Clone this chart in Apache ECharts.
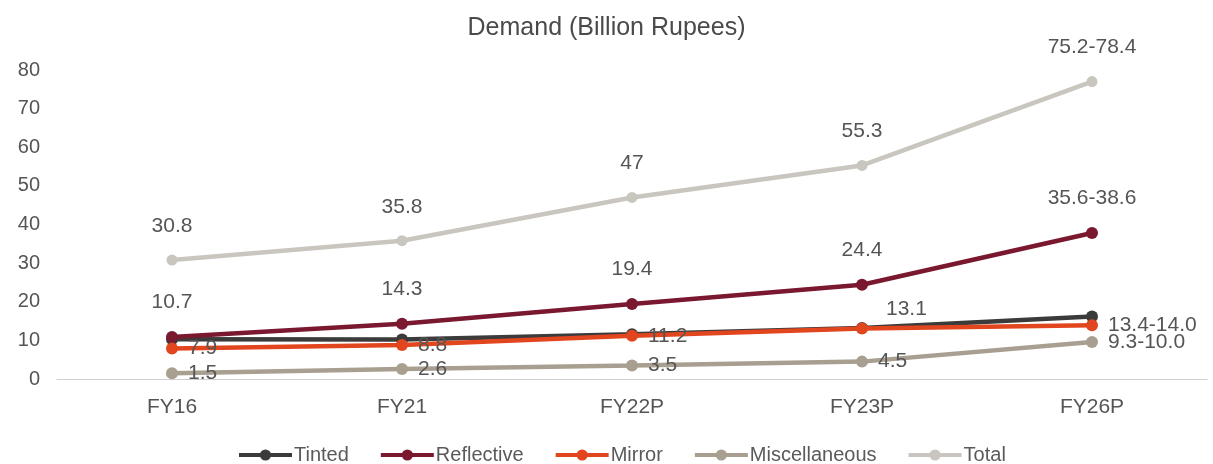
<!DOCTYPE html>
<html><head><meta charset="utf-8">
<script src="https://cdn.jsdelivr.net/npm/echarts@6/dist/echarts.min.js"></script>
<style>html,body{margin:0;padding:0;background:#fff}#c{width:1213px;height:464px}</style>
</head><body><div id="c"></div>
<script>
const categories = ['FY16', 'FY21', 'FY22P', 'FY23P', 'FY26P'];
const tinted = [10.3, 10.2, 11.6, 13.2, 16.2];
const reflective = [10.9, 14.3, 19.4, 24.4, 37.8];
const mirror = [7.9, 8.8, 11.2, 13.1, 13.9];
const misc = [1.5, 2.6, 3.5, 4.5, 9.6];
const total = [30.8, 35.8, 47, 55.3, 77.0];
const reflectiveLabels = ['10.7', '14.3', '19.4', '24.4', '35.6-38.6'];
const mirrorLabels = ['7.9', '8.8', '11.2', '13.1', '13.4-14.0'];
const miscLabels = ['1.5', '2.6', '3.5', '4.5', '9.3-10.0'];
const totalLabels = ['30.8', '35.8', '47', '55.3', '75.2-78.4'];
const yTicks = [0, 10, 20, 30, 40, 50, 60, 70, 80];

const FONT = 'Liberation Sans, Arial, sans-serif';
const chart = echarts.init(document.getElementById('c'));
const lblBase = { color: '#555', fontSize: 21, fontFamily: FONT };
function mk(name, data, color, z, labels, pos, dist, size) {
  return {
    name, type: 'line', data, z,
    symbol: 'circle', symbolSize: size,
    lineStyle: { width: 4.5, color },
    itemStyle: { color },
    label: labels ? Object.assign({ show: true, position: pos, distance: dist,
      formatter: p => labels[p.dataIndex] }, lblBase) : { show: false }
  };
}
// FY23P mirror label sits above-right of its point in the reference
const mirrorItems = mirror.map((v, i) => i === 3 ? { value: v, label: { offset: [8, -19] } } : v);

chart.setOption({
  animation: false,
  title: { text: 'Demand (Billion Rupees)', left: 'center', top: 11,
    textStyle: { color: '#4a4a4a', fontSize: 25, fontWeight: 'normal', fontFamily: FONT } },
  grid: { left: 57, right: 6, top: 70, bottom: 85, containLabel: false },
  legend: {
    top: 440, left: 232, itemWidth: 53, itemHeight: 14, itemGap: 30,
    lineStyle: { width: 4 },
    textStyle: { color: '#5a5a5a', fontSize: 20, fontFamily: FONT, padding: [0, 0, 0, -3] },
    data: ['Tinted', 'Reflective', 'Mirror', 'Miscellaneous', 'Total']
  },
  xAxis: {
    type: 'category', data: categories, boundaryGap: true,
    axisLine: { lineStyle: { color: '#d0d0d0', width: 1 } },
    axisTick: { show: false },
    axisLabel: { color: '#555', fontSize: 21, margin: 18, fontFamily: FONT }
  },
  yAxis: {
    type: 'value', min: yTicks[0], max: yTicks[yTicks.length - 1], interval: 10,
    axisLine: { show: false }, axisTick: { show: false },
    splitLine: { show: false },
    axisLabel: { color: '#555', fontSize: 20, margin: 17, fontFamily: FONT }
  },
  series: [
    mk('Total', total, '#c9c6bf', 1, totalLabels, 'top', 18, 11),
    mk('Miscellaneous', misc, '#a89f91', 2, miscLabels, 'right', 10, 12),
    mk('Tinted', tinted, '#3b3b3b', 3, null, null, 0, 12),
    mk('Reflective', reflective, '#7a1830', 4, reflectiveLabels, 'top', 18, 12),
    mk('Mirror', mirrorItems, '#e2461f', 5, mirrorLabels, 'right', 10, 12)
  ]
});
</script></body></html>
